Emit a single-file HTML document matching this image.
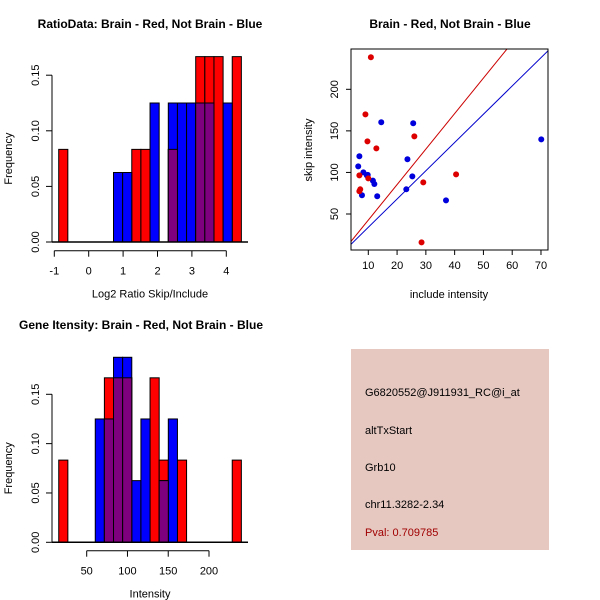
<!DOCTYPE html>
<html><head><meta charset="utf-8"><style>
html,body{margin:0;padding:0;background:#fff;}
svg{display:block;font-family:"Liberation Sans",sans-serif;}
</style></head><body>
<svg id="s" width="600" height="600">
<text x="150" y="28" text-anchor="middle" font-size="12" font-weight="bold">RatioData: Brain - Red, Not Brain - Blue</text>
<text x="450" y="28" text-anchor="middle" font-size="12" font-weight="bold">Brain - Red, Not Brain - Blue</text>
<text x="141" y="329" text-anchor="middle" font-size="12" font-weight="bold">Gene Itensity: Brain - Red, Not Brain - Blue</text>
<rect x="351" y="349" width="198" height="201" fill="#e6c8c1"/>
<text x="365" y="396" font-size="11">G6820552@J911931_RC@i_at</text>
<text x="365" y="434" font-size="11">altTxStart</text>
<text x="365" y="471" font-size="11">Grb10</text>
<text x="365" y="508" font-size="11">chr11.3282-2.34</text>
<text x="365" y="536" font-size="11" fill="#a00000">Pval: 0.709785</text>
</svg>
<script>
// Top-left histogram (20 bins)
const ratioRed=[0.0833,0,0,0,0,0,0,0,0.0833,0.0833,0,0,0.0833,0,0,0.1667,0.1667,0.1667,0,0.1667];
const ratioBlue=[0,0,0,0,0,0,0.0625,0.0625,0,0,0.125,0,0.125,0.125,0.125,0.125,0.125,0,0.125,0];
const ratioXTicks=[-1,0,1,2,3,4];
const ratioYTicks=[0,0.05,0.10,0.15];
// Bottom-left histogram
const intRed=[0.0833,0,0,0,0,0.1667,0.1667,0.1667,0,0,0.1667,0.0833,0,0.0833,0,0,0,0,0,0.0833];
const intBlue=[0,0,0,0,0.125,0.125,0.1875,0.1875,0.0625,0.125,0,0.0625,0.125,0,0,0,0,0,0,0];
const intXTicks=[50,100,150,200];
const intYTicks=[0,0.05,0.10,0.15];
// Scatter
const redX=[10.9,9.0,9.7,12.8,6.9,10.0,7.2,6.9,26.0,29.1,40.5,28.5];
const redY=[238.5,169.9,137.4,129,96.5,92.9,79.7,77.3,143.4,88.1,97.7,15.9];
const blueX=[6.9,6.5,8.3,9.5,11.6,12.1,7.8,13.1,14.5,25.6,23.6,25.3,23.2,37.0,70.1,9.8];
const blueY=[119.4,107.3,100.1,96.5,90.1,86.1,72.5,71.3,160.3,159.1,115.8,95.3,79.7,66.4,139.8,97];
const redSlope=[4.27], blueSlope=[3.4];
const scXTicks=[10,20,30,40,50,60,70];
const scYTicks=[50,100,150,200];

const NS="http://www.w3.org/2000/svg";
const svg=document.getElementById('s');
function mk(tag,attrs,parent){const e=document.createElementNS(NS,tag);for(const k in attrs)e.setAttribute(k,attrs[k]);(parent||svg).appendChild(e);return e;}

function hist(o){
  const g=mk('g',{});
  
  
  const sx=v=>o.x0+(v-o.d0)*o.kx, sy=v=>o.y0-v*o.ky;
  const bw=o.bw;
  const bar=(i,v,c,nm)=>{if(v<=0)return;const x=sx(o.start+i*bw);const r=mk('rect',{x:x,y:sy(v),width:sx(o.start+(i+1)*bw)-x,height:sy(0)-sy(v),fill:c,stroke:'#000','stroke-width':1},g);
    
    };
  o.red.forEach((v,i)=>bar(i,v,'#ff0000','bar-red'));
  o.blue.forEach((v,i)=>bar(i,v,'#0000ff','bar-blue'));
  o.red.forEach((v,i)=>bar(i,Math.min(v,o.blue[i]),'#7f007f','bar-overlap'));
  mk('line',{x1:52,x2:248,y1:sy(0),y2:sy(0),stroke:'#000','stroke-width':1.5},g);
  // y axis
  const ya=mk('g',{},g);
  
  
  mk('line',{x1:o.yax,x2:o.yax,y1:sy(o.yt[0]),y2:sy(o.yt[o.yt.length-1]),stroke:'#000'},ya);
  o.yt.forEach(t=>{mk('line',{x1:o.yax,x2:o.yax-6,y1:sy(t),y2:sy(t),stroke:'#000'},ya);
    const tx=mk('text',{x:o.yax-13,y:sy(t),'font-size':11,'text-anchor':'middle',transform:`rotate(-90 ${o.yax-13} ${sy(t)})`},ya);tx.textContent=t.toFixed(2);});
  const xa=mk('g',{},g);
  
  
  mk('line',{x1:sx(o.xt[0]),x2:sx(o.xt[o.xt.length-1]),y1:o.xay,y2:o.xay,stroke:'#000'},xa);
  o.xt.forEach(t=>{mk('line',{x1:sx(t),x2:sx(t),y1:o.xay,y2:o.xay+6,stroke:'#000'},xa);
    const tx=mk('text',{x:sx(t),y:o.xay+24,'font-size':11,'text-anchor':'middle'},xa);tx.textContent=t;});
  const xl=mk('text',{x:150,y:o.xay+47,'font-size':11,'text-anchor':'middle'},g);xl.textContent=o.xlab;
  
  
  const yl=mk('text',{x:12,y:(sy(0)+sy(0.15))/2,'font-size':11,'text-anchor':'middle',transform:`rotate(-90 12 ${(sy(0)+sy(0.15))/2})`},g);yl.textContent='Frequency';
  
  
}
hist({name:'ratio-histogram',red:ratioRed,blue:ratioBlue,x0:54.3,d0:-1,kx:34.4,y0:242,ky:1112,start:-0.872,bw:0.2655,yax:52,xay:250.7,xt:ratioXTicks,yt:ratioYTicks,xlab:'Log2 Ratio Skip/Include'});
hist({name:'intensity-histogram',red:intRed,blue:intBlue,x0:86.7,d0:50,kx:0.8153,y0:542.3,ky:986.7,start:15.7,bw:11.2,yax:52,xay:550.7,xt:intXTicks,yt:intYTicks,xlab:'Intensity'});

// scatter
(function(){
  const L=351,R=548,T=49,B=250;
  const sx=v=>368.3+(v-10)*2.878, sy=v=>214-(v-50)*0.8313;
  const g=mk('g',{});
  
  
  mk('clipPath',{id:'cp'},g).appendChild((()=>{const r=document.createElementNS(NS,'rect');r.setAttribute('x',L);r.setAttribute('y',T);r.setAttribute('width',R-L);r.setAttribute('height',B-T);return r;})());
  const line=(k,c,nm)=>{const xa=0,xb=80;const l=mk('line',{x1:sx(xa),y1:sy(k*xa),x2:sx(xb),y2:sy(k*xb),stroke:c,'stroke-width':1,'clip-path':'url(#cp)'},g);
    
    };
  line(redSlope[0],'#cc0000','red-fit-line');
  line(blueSlope[0],'#0000cc','blue-fit-line');
  blueX.forEach((x,i)=>{const c=mk('circle',{cx:sx(x),cy:sy(blueY[i]),r:3,fill:'#0000dd'},g);
    
    });
  redX.forEach((x,i)=>{const c=mk('circle',{cx:sx(x),cy:sy(redY[i]),r:3,fill:'#dd0000'},g);
    
    });
  mk('rect',{x:L,y:T,width:R-L,height:B-T,fill:'none',stroke:'#000'},g);
  scXTicks.forEach(t=>{mk('line',{x1:sx(t),x2:sx(t),y1:B,y2:B+5,stroke:'#000'},g);
    const tx=mk('text',{x:sx(t),y:B+19,'font-size':11,'text-anchor':'middle'},g);tx.textContent=t;});
  scYTicks.forEach(t=>{mk('line',{x1:L,x2:L-5,y1:sy(t),y2:sy(t),stroke:'#000'},g);
    const tx=mk('text',{x:L-13,y:sy(t),'font-size':11,'text-anchor':'middle',transform:`rotate(-90 ${L-13} ${sy(t)})`},g);tx.textContent=t;});
  const xl=mk('text',{x:449,y:298,'font-size':11,'text-anchor':'middle'},g);xl.textContent='include intensity';
  
  
  const yl=mk('text',{x:312,y:150,'font-size':11,'text-anchor':'middle',transform:'rotate(-90 312 150)'},g);yl.textContent='skip intensity';
  
  
})();
</script>
</body></html>
